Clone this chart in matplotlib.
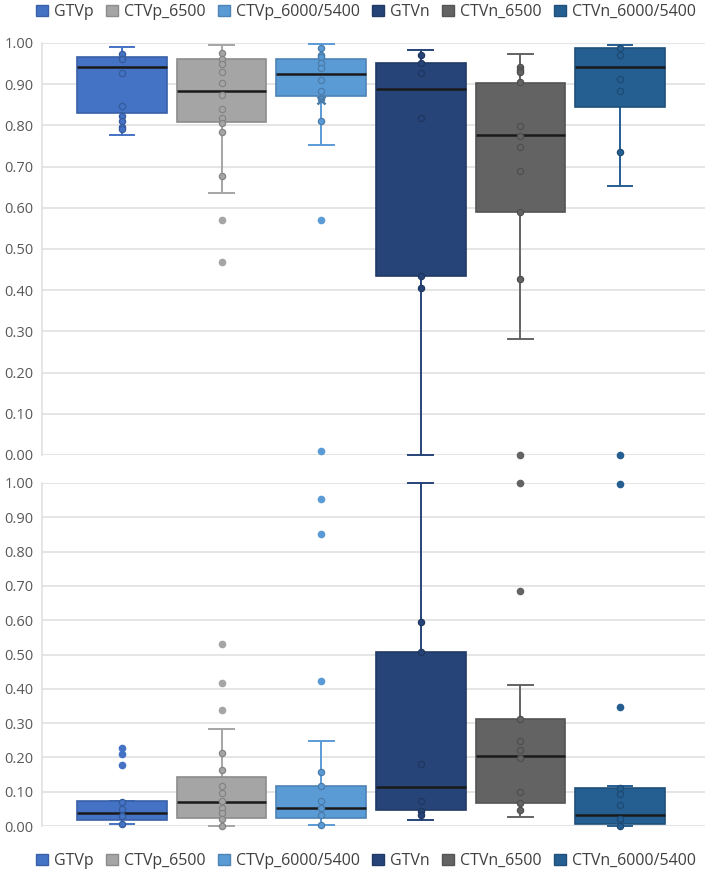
import numpy as np
import matplotlib
matplotlib.use("Agg")
import matplotlib.pyplot as plt
from matplotlib.patches import Patch
from matplotlib.colors import to_rgb

plt.rcParams['font.family'] = ['Open Sans', 'DejaVu Sans']

labels = ['GTVp', 'CTVp_6500', 'CTVp_6000/5400', 'GTVn', 'CTVn_6500', 'CTVn_6000/5400']
colors = ['#4472C4', '#A5A5A5', '#5B9BD5', '#264478', '#636363', '#255E91']

# top panel
top_whislo = [0.776, 0.635, 0.753, 0.000, 0.281, 0.653]
top_q1     = [0.831, 0.809, 0.871, 0.435, 0.589, 0.845]
top_med    = [0.941, 0.883, 0.924, 0.889, 0.776, 0.941]
top_q3     = [0.965, 0.960, 0.960, 0.952, 0.903, 0.987]
top_whishi = [0.990, 0.995, 0.998, 0.984, 0.973, 0.995]
top_points = [
    [0.973, 0.960, 0.926, 0.847, 0.823, 0.810, 0.795, 0.791],
    [0.976, 0.962, 0.948, 0.929, 0.903, 0.875, 0.840, 0.818, 0.805, 0.785, 0.676],
    [0.987, 0.970, 0.965, 0.952, 0.940, 0.910, 0.883, 0.865, 0.811],
    [0.970, 0.952, 0.926, 0.819, 0.434, 0.405],
    [0.942, 0.935, 0.929, 0.905, 0.799, 0.774, 0.748, 0.690, 0.589, 0.428],
    [0.988, 0.972, 0.912, 0.883, 0.736],
]
top_outliers = [[], [0.571, 0.468], [0.571, 0.010], [], [0.000], [0.001]]
top_means = [None, None, 0.861, None, None, None]

# bottom panel
bot_whislo = [0.007, 0.000, 0.003, 0.017, 0.027, 0.000]
bot_q1     = [0.017, 0.024, 0.024, 0.048, 0.066, 0.007]
bot_med    = [0.039, 0.070, 0.053, 0.114, 0.205, 0.032]
bot_q3     = [0.074, 0.142, 0.118, 0.507, 0.312, 0.111]
bot_whishi = [0.074, 0.282, 0.247, 1.000, 0.412, 0.118]
bot_points = [
    [0.070, 0.049, 0.029, 0.007],
    [0.212, 0.163, 0.118, 0.095, 0.073, 0.053, 0.037, 0.019, 0.000],
    [0.157, 0.118, 0.073, 0.053, 0.032, 0.003],
    [0.596, 0.507, 0.181, 0.073, 0.044, 0.031],
    [0.312, 0.249, 0.223, 0.199, 0.099, 0.066, 0.046],
    [0.111, 0.092, 0.060, 0.019, 0.000],
]
bot_outliers = [[0.228, 0.209, 0.178], [0.531, 0.416, 0.337], [0.953, 0.852, 0.423],
                [], [1.000, 0.685], [0.997, 0.346]]
bot_means = [None] * 6

positions = np.arange(1, 7)
yticks = np.arange(0, 1.01, 0.1)


def darker(c, f=0.7):
    r, g, b = to_rgb(c)
    return (r * f, g * f, b * f)


def draw_panel(ax, whislo, q1, med, q3, whishi, points, outliers, means):
    stats = []
    for i in range(6):
        stats.append(dict(whislo=whislo[i], q1=q1[i], med=med[i], q3=q3[i],
                          whishi=whishi[i], fliers=[]))
    bp = ax.bxp(stats, positions=positions, widths=0.9, patch_artist=True,
                showfliers=False, showcaps=True, capwidths=0.25,
                manage_ticks=False)
    for i in range(6):
        c = colors[i]
        bp['boxes'][i].set(facecolor=c, edgecolor=darker(c, 0.85), linewidth=1.2, zorder=3)
        bp['medians'][i].set(color='#1a1a1a', linewidth=1.8, zorder=4)
        for w in bp['whiskers'][2 * i:2 * i + 2]:
            w.set(color=c, linewidth=1.4, zorder=2, clip_on=False)
        for cp in bp['caps'][2 * i:2 * i + 2]:
            cp.set(color=c, linewidth=1.4, zorder=2, clip_on=False)
        pts = points[i]
        ax.plot([positions[i]] * len(pts), pts, 'o', ms=4.5, mfc=c,
                mec=darker(c, 0.8), mew=0.9, zorder=5, clip_on=False)
        out = outliers[i]
        if out:
            ax.plot([positions[i]] * len(out), out, 'o', ms=4.5, mfc=c,
                    mec=c, mew=1.0, zorder=5, clip_on=False)
        if means[i] is not None:
            ax.plot(positions[i], means[i], 'x', ms=6, mec=darker(c, 0.8), mew=1.8, zorder=5)

    ax.set_xlim(0.197, 6.853)
    ax.set_ylim(0, 1)
    ax.set_yticks(yticks)
    ax.set_yticklabels(['%.2f' % v for v in yticks])
    ax.set_xticks([])
    ax.grid(axis='y', color='#e0e0e0', linewidth=1.2, zorder=0)
    ax.set_axisbelow(True)
    for s in ['top', 'right', 'bottom']:
        ax.spines[s].set_visible(False)
    ax.spines['left'].set_color('#e0e0e0')
    ax.spines['left'].set_linewidth(1.2)
    ax.tick_params(axis='y', length=0, labelsize=10.5, labelcolor='#595959', pad=6)


fig = plt.figure(figsize=(7.08, 8.75), dpi=100)
W, H = 708.0, 875.0
ax_top = fig.add_axes([42 / W, 1 - 455 / H, (705 - 42) / W, (455 - 43) / H])
ax_bot = fig.add_axes([42 / W, 1 - 826 / H, (705 - 42) / W, (826 - 483) / H])

draw_panel(ax_top, top_whislo, top_q1, top_med, top_q3, top_whishi, top_points, top_outliers, top_means)
draw_panel(ax_bot, bot_whislo, bot_q1, bot_med, bot_q3, bot_whishi, bot_points, bot_outliers, bot_means)

handles = [Patch(facecolor=c, edgecolor=darker(c, 0.85), label=l) for c, l in zip(colors, labels)]
for yy in [1 - 12 / H, 1 - 861 / H]:
    fig.legend(handles=handles, loc='center', bbox_to_anchor=(366 / W, yy), ncol=6,
               frameon=False, fontsize=11.5, handlelength=0.75, handleheight=0.75,
               handletextpad=0.35, columnspacing=0.8, labelcolor='#404040')

fig.savefig('out.png', dpi=100)
